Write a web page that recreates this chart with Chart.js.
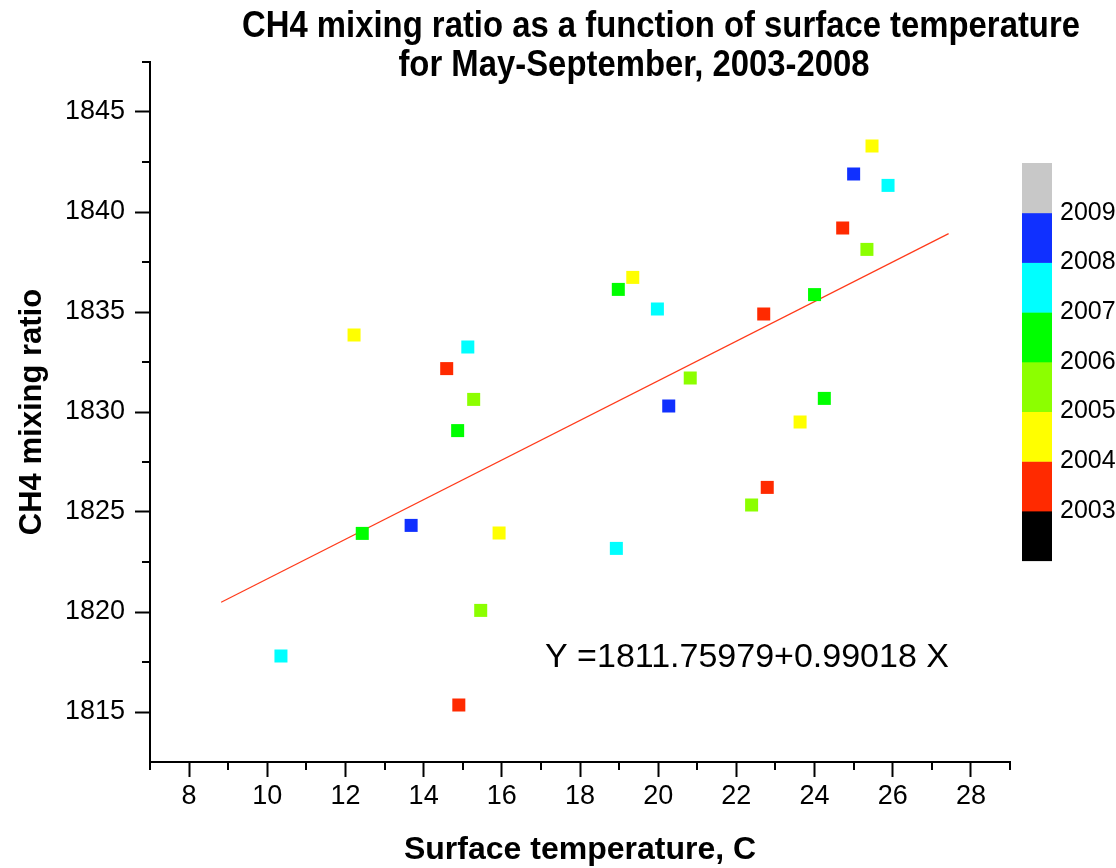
<!DOCTYPE html>
<html>
<head>
<meta charset="utf-8">
<script src="https://cdn.jsdelivr.net/npm/chart.js@4.4.1/dist/chart.umd.min.js"></script>
<style>
  html, body { margin: 0; padding: 0; background: #fff; }
  canvas { display: block; }
</style>
</head>
<body>
<canvas id="scatterChart" width="1116" height="868"></canvas>
<script>
// values
var years = ["2003", "2004", "2005", "2006", "2007", "2008"];
var yearColors = ["#ff2a00", "#ffff00", "#8cff00", "#00ff00", "#00ffff", "#1030ff"];

var temp2003 = [14.59, 14.90, 22.70, 22.79, 24.72];
var ch42003 = [1832.17, 1815.35, 1834.90, 1826.23, 1839.20];
var temp2004 = [12.22, 15.93, 19.35, 23.63, 25.47];
var ch42004 = [1833.85, 1823.95, 1836.73, 1829.50, 1843.30];
var temp2005 = [15.28, 15.46, 20.82, 22.39, 25.34];
var ch42005 = [1830.63, 1820.08, 1831.70, 1825.35, 1838.13];
var temp2006 = [12.43, 14.87, 18.98, 24.00, 24.25];
var ch42006 = [1823.93, 1829.07, 1836.13, 1835.87, 1830.68];
var temp2007 = [10.35, 15.13, 18.93, 19.98, 25.88];
var ch42007 = [1817.80, 1833.25, 1823.18, 1835.15, 1841.33];
var temp2008 = [13.68, 20.27, 25.00];
var ch42008 = [1824.33, 1830.30, 1841.90];

// regression line end points
var fitX = [8.82, 27.43];
var fitY = [1820.49, 1838.92];

var xTicks = [8, 10, 12, 14, 16, 18, 20, 22, 24, 26, 28];
var yTicks = [1815, 1820, 1825, 1830, 1835, 1840, 1845];

// colour bar legend (bottom to top)
var barColors = ["#000000", "#ff2a00", "#ffff00", "#8cff00", "#00ff00", "#00ffff", "#1030ff", "#c8c8c8"];
var barLabels = ["2003", "2004", "2005", "2006", "2007", "2008", "2009"];

var FONT = '"Liberation Sans", Arial, sans-serif';

function pairs(xs, ys) {
  return xs.map(function (x, i) { return { x: x, y: ys[i] }; });
}

var tempSets = [temp2003, temp2004, temp2005, temp2006, temp2007, temp2008];
var ch4Sets = [ch42003, ch42004, ch42005, ch42006, ch42007, ch42008];

var datasets = years.map(function (yr, i) {
  return {
    type: "scatter",
    label: yr,
    data: pairs(tempSets[i], ch4Sets[i]),
    backgroundColor: yearColors[i],
    borderColor: yearColors[i],
    borderWidth: 0,
    pointStyle: "rect",
    pointRadius: 9.2,
  };
});

datasets.push({
  type: "line",
  label: "fit",
  data: pairs(fitX, fitY),
  borderColor: "#ff3a1a",
  borderWidth: 1.2,
  pointRadius: 0,
  fill: false,
});

var extrasPlugin = {
  id: "extras",
  afterDraw: function (chart) {
    var c = chart.ctx;
    var xs = chart.scales.x, ys = chart.scales.y;
    c.save();
    // minor ticks
    c.strokeStyle = "#000";
    c.lineWidth = 2;
    c.beginPath();
    for (var v = 7; v <= 29; v += 2) {
      var px = Math.round(xs.getPixelForValue(v));
      c.moveTo(px, xs.top);
      c.lineTo(px, xs.top + 8);
    }
    for (var w = 1817.5; w <= 1847.5; w += 5) {
      var py = Math.round(ys.getPixelForValue(w));
      c.moveTo(ys.right, py);
      c.lineTo(ys.right - 8, py);
    }
    c.stroke();

    // title (condensed bold)
    c.fillStyle = "#000";
    c.textBaseline = "middle";
    c.textAlign = "center";
    c.font = "bold 37px " + FONT;
    var line1 = "CH4 mixing ratio as a function of surface temperature";
    var line2 = "for May-September, 2003-2008";
    var sx = 838 / c.measureText(line1).width;
    c.save();
    c.translate(661, 27);
    c.scale(sx, 1);
    c.fillText(line1, 0, 0);
    c.restore();
    c.save();
    c.translate(634, 66);
    c.scale(sx, 1);
    c.fillText(line2, 0, 0);
    c.restore();

    // equation
    c.textAlign = "left";
    c.font = "34px " + FONT;
    c.fillText("Y =1811.75979+0.99018 X", 545, 658);

    // colour bar
    var bx = 1022, bw = 30, btop = 163, bh = 49.7;
    var n = barColors.length;
    for (var i = 0; i < n; i++) {
      c.fillStyle = barColors[i];
      c.fillRect(bx, btop + (n - 1 - i) * bh, bw, bh + 0.5);
    }
    c.fillStyle = "#000";
    c.font = "25px " + FONT;
    for (var k = 0; k < barLabels.length; k++) {
      c.fillText(barLabels[k], 1060, btop + (n - 1 - k) * bh);
    }
    c.restore();
  },
};

var ctx = document.getElementById("scatterChart").getContext("2d");
var chart = new Chart(ctx, {
  data: { datasets: datasets },
  options: {
    responsive: false,
    animation: false,
    layout: { padding: { top: 62, right: 106, left: 0, bottom: 0 } },
    plugins: { legend: { display: false }, tooltip: { enabled: false } },
    scales: {
      x: {
        type: "linear",
        min: 7,
        max: 29,
        afterFit: function (s) { s.height = 106; },
        afterBuildTicks: function (s) {
          s.ticks = xTicks.map(function (v) { return { value: v }; });
        },
        ticks: {
          autoSkip: false,
          maxRotation: 0,
          color: "#000",
          padding: 3,
          font: { family: FONT, size: 27 },
          callback: function (value) { return String(value); },
        },
        grid: { drawOnChartArea: false, tickLength: 15, tickColor: "#000", tickWidth: 2 },
        border: { color: "#000", width: 2 },
        title: {
          display: true,
          text: "Surface temperature, C",
          color: "#000",
          font: { family: FONT, size: 32, weight: "bold", lineHeight: 1.0 },
          padding: { top: 0, bottom: 2 },
        },
      },
      y: {
        type: "linear",
        min: 1812.5,
        max: 1847.5,
        afterFit: function (s) { s.width = 150; },
        afterBuildTicks: function (s) {
          s.ticks = yTicks.map(function (v) { return { value: v }; });
        },
        ticks: {
          color: "#000",
          padding: 10,
          font: { family: FONT, size: 27 },
          callback: function (value) { return String(value); },
        },
        grid: { drawOnChartArea: false, tickLength: 15, tickColor: "#000", tickWidth: 2 },
        border: { color: "#000", width: 2 },
        title: {
          display: true,
          text: "CH4 mixing ratio",
          color: "#000",
          font: { family: FONT, size: 31, weight: "bold" },
          padding: { top: 14, bottom: 0 },
        },
      },
    },
  },
  plugins: [extrasPlugin],
});
</script>
</body>
</html>
